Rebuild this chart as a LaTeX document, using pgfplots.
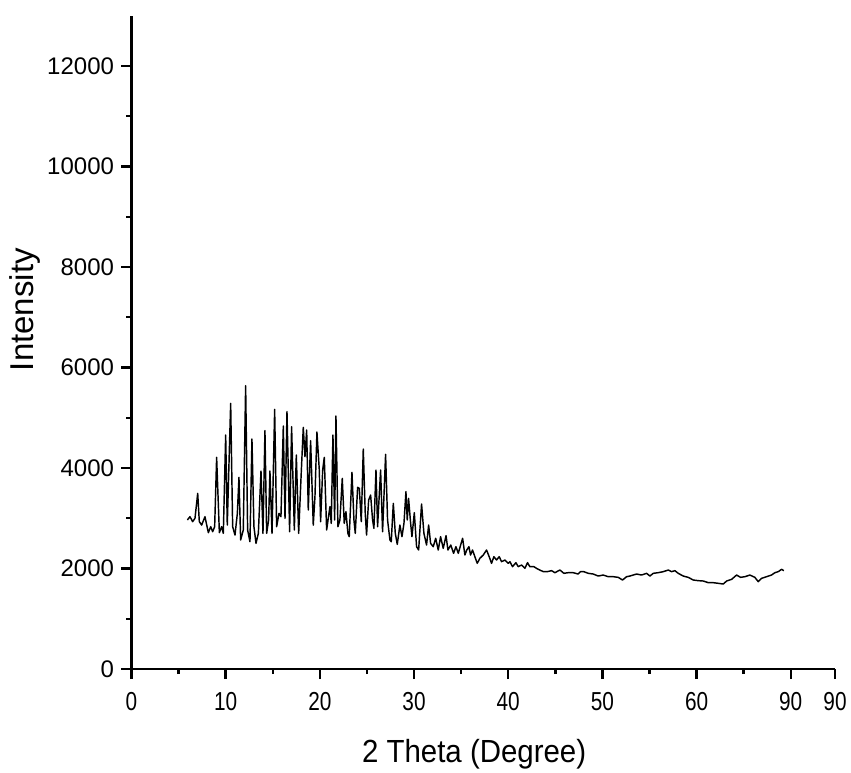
\documentclass[border=0pt]{standalone}
\usepackage{fontspec}
\setmainfont{Liberation Sans}
\newfontfamily\narrowsans[FakeStretch=0.8]{Liberation Sans}
\newfontfamily\labelsans[FakeStretch=0.92]{Liberation Sans}
\usepackage{pgfplots}
\pgfplotsset{compat=1.18}
\begin{document}
\begin{tikzpicture}
\begin{axis}[
  scale only axis,
  width=703.5pt, height=653.25pt,
  xmin=0, xmax=74.7, ymin=0, ymax=13000,
  axis lines=left, axis line style={line width=2.6pt, -},
  xtick={0,10,20,30,40,50,60,70,74.7},
  xticklabels={0,10,20,30,40,50,60,90,90},
  minor xtick={5,15,25,35,45,55,65},
  ytick={0,2000,4000,6000,8000,10000,12000},
  minor ytick={1000,3000,5000,7000,9000,11000},
  tick align=outside,
  major tick length=10pt, minor tick length=5pt,
  every tick/.style={black, line width=2.4pt},
  scaled y ticks=false,
  /pgf/number format/assume math mode=true,
  yticklabel style={/pgf/number format/1000 sep={}, font=\fontsize{24}{28}\selectfont},
  yticklabel shift=4pt,
  xticklabel shift=10pt,
  xticklabel style={font=\narrowsans\fontsize{26}{30}\selectfont},
  xlabel={2 Theta (Degree)},
  ylabel={Intensity},
  xlabel style={font=\labelsans\fontsize{32}{38}\selectfont, at={(ticklabel cs:0.487)}, yshift=-22pt},
  ylabel style={font=\fontsize{33}{38}\selectfont, at={(ticklabel cs:0.544)}, xshift=4pt},
  clip=false,
]
\coordinate (O) at (rel axis cs:0,0);
\addplot[black, line width=1.45pt, line join=round] table {
x y
5.93 2965
6.21 3031
6.49 2932
6.74 2998
7.03 3495
7.20 2932
7.45 2865
7.80 3031
8.16 2713
8.41 2832
8.62 2732
8.83 2832
9.04 4212
9.33 2713
9.57 2832
9.75 2699
10.00 4656
10.17 2865
10.53 5287
10.74 2832
10.99 2666
11.24 3097
11.41 3814
11.59 2567
11.87 2766
12.12 5638
12.33 2766
12.58 2533
12.79 4577
13.00 2832
13.22 2500
13.47 2699
13.75 3940
13.96 2699
14.17 4743
14.35 2699
14.56 2965
14.70 3940
14.92 2699
15.20 5167
15.41 2832
15.66 3097
15.87 3031
16.12 4835
16.30 2998
16.51 5121
16.79 2732
17.00 4822
17.29 2766
17.50 4258
17.75 2699
17.99 3761
18.24 4809
18.42 4225
18.60 4756
18.77 3164
19.02 4544
19.30 2865
19.48 3429
19.69 4716
19.94 3960
20.08 2932
20.30 3960
20.47 4212
20.72 2766
21.07 3230
21.21 2898
21.39 4656
21.57 2965
21.71 5035
21.92 2832
22.13 2965
22.38 3794
22.59 2898
22.77 3131
22.98 2699
23.12 2633
23.41 3913
23.62 2965
23.76 2699
24.01 3615
24.19 3595
24.40 2932
24.61 4378
24.82 3097
24.96 2666
25.18 3363
25.39 3462
25.60 2965
25.74 2799
25.96 3960
26.13 2832
26.45 3960
26.66 2732
26.98 4272
27.19 2965
27.44 2567
27.58 2533
27.80 3296
28.01 2699
28.22 2480
28.50 2865
28.72 2633
28.93 2898
29.14 3529
29.28 2965
29.42 3396
29.64 2898
29.78 2633
30.03 3111
30.27 2434
30.49 2368
30.80 3283
31.05 2699
31.33 2467
31.55 2866
31.76 2501
32.04 2434
32.30 2601
32.57 2368
32.82 2633
33.10 2402
33.40 2653
33.60 2368
33.90 2468
34.20 2302
34.45 2434
34.70 2302
34.95 2468
35.16 2601
35.40 2269
35.60 2368
35.83 2434
36.00 2268
36.21 2368
36.46 2235
36.71 2103
36.99 2202
37.35 2268
37.70 2368
37.98 2235
38.23 2103
38.48 2235
38.76 2169
39.05 2235
39.29 2136
39.65 2169
40.00 2103
40.18 2136
40.46 2036
40.82 2116
41.06 2036
41.42 2069
41.77 2003
42.05 2116
42.30 2036
42.73 2036
43.01 2003
43.36 1970
43.72 1937
44.14 1937
44.60 1957
44.96 1917
45.49 1970
45.91 1904
46.37 1917
46.90 1917
47.43 1890
47.68 1937
48.03 1937
48.50 1904
49.03 1890
49.56 1850
50.09 1870
50.62 1837
51.15 1837
51.68 1824
52.14 1771
52.57 1837
52.92 1850
53.63 1890
54.16 1870
54.69 1904
55.05 1850
55.40 1904
55.93 1917
56.46 1937
57.00 1970
57.35 1937
57.70 1957
58.05 1904
58.58 1850
59.11 1824
59.65 1771
60.18 1758
60.71 1751
61.24 1718
61.77 1718
62.30 1705
62.83 1691
63.19 1751
63.72 1784
64.25 1870
64.67 1824
65.13 1837
65.66 1870
66.19 1824
66.55 1738
66.90 1804
67.43 1837
67.96 1870
68.32 1917
68.67 1937
69.03 1983
69.27 1957
};
\end{axis}
\path ([shift={(-131.5pt,-102pt)}]O) rectangle ([shift={(719.5pt,669pt)}]O);
\end{tikzpicture}
\end{document}
